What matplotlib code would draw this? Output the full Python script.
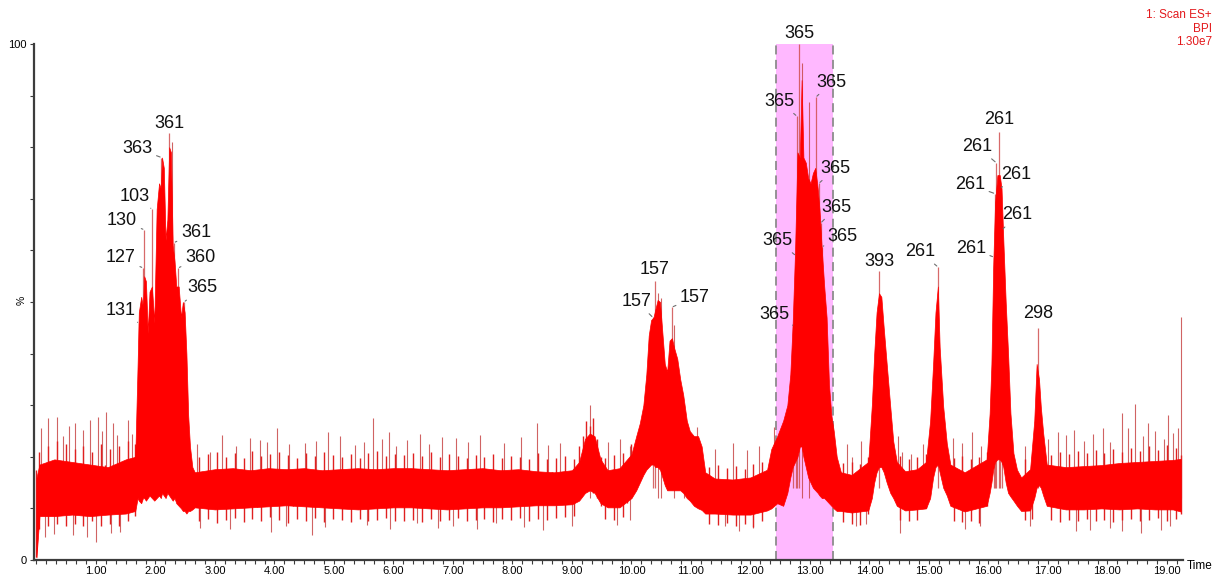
import matplotlib
matplotlib.use("Agg")
import matplotlib.pyplot as plt
from matplotlib.ticker import MultipleLocator, FixedLocator

plt.rcParams["font.family"] = ["Liberation Sans", "DejaVu Sans"]

# -----------------------------
# BPI trace, % of 1.30e7
# core = solid body of the signal, scans = individual scans around it
# -----------------------------
core_t = [
    0.00, 0.05, 0.30, 0.60, 0.90, 1.20, 1.50, 1.66,
    1.70, 1.72, 1.76, 1.79, 1.81, 1.84, 1.87, 1.90, 1.94, 1.98, 2.02, 2.06, 2.09, 2.11, 2.14, 2.17, 2.20, 2.23,
    2.26, 2.29, 2.32, 2.35, 2.39, 2.43, 2.46, 2.49, 2.52, 2.55, 2.58, 2.62,
    2.66, 3.00, 3.30, 3.60, 3.90, 4.20, 4.50, 4.80, 5.10, 5.40, 5.70, 6.00, 6.30, 6.60, 6.90, 7.20, 7.50, 7.80,
    8.10, 8.40, 8.70, 9.00, 9.12,
    9.22, 9.30, 9.38, 9.48, 9.60, 9.80, 10.00,
    10.08, 10.14, 10.20, 10.25, 10.29, 10.33, 10.37, 10.40, 10.44, 10.48, 10.52, 10.56, 10.60, 10.64, 10.68,
    10.72, 10.77, 10.82, 10.87, 10.93, 10.98, 11.05, 11.12, 11.18, 11.24,
    11.40, 11.70, 12.00, 12.28,
    12.35, 12.45, 12.55, 12.62, 12.67, 12.71, 12.75, 12.79, 12.83, 12.86, 12.89, 12.93, 12.97, 13.01, 13.05,
    13.09, 13.13, 13.16, 13.20, 13.24, 13.28, 13.32, 13.36, 13.40, 13.45, 13.52,
    13.70, 13.98,
    14.04, 14.08, 14.12, 14.16, 14.20, 14.24, 14.29, 14.35, 14.40, 14.46,
    14.60, 14.80, 14.95,
    15.02, 15.07, 15.11, 15.15, 15.18, 15.24, 15.30, 15.36,
    15.60, 15.97,
    16.02, 16.05, 16.08, 16.11, 16.15, 16.19, 16.22, 16.25, 16.29, 16.33, 16.37, 16.42, 16.48, 16.55,
    16.70,
    16.77, 16.81, 16.85, 16.88, 16.92, 16.98,
    17.30, 17.60, 17.90, 18.20, 18.50, 18.80, 19.10, 19.23,
]
core_top = [
    16.0, 18.5, 19.5, 19.0, 18.5, 18.0, 19.5, 20.0,
    38, 48, 51, 49, 55, 54, 44, 52, 53, 46, 68, 73, 72, 78, 76, 62, 66, 80,
    79, 61, 58, 53, 53, 47, 50, 48, 40, 28, 22, 18,
    17.0, 17.6, 17.8, 17.4, 17.8, 17.6, 17.8, 17.4, 17.6, 17.8, 17.6, 17.8, 17.8, 17.6, 17.4, 17.6, 17.8, 17.4,
    17.6, 17.2, 17.0, 17.4, 19.0,
    23.5, 24.5, 24.0, 19.5, 17.4, 17.8, 20.5,
    24, 26.5, 30, 36, 43.5, 46.5, 47, 48.5, 50.4, 50, 44, 38, 36.5, 42.5, 43,
    41, 39, 35, 32, 27, 25, 24, 24, 22, 17,
    15.8, 15.6, 16.0, 17.5,
    21.5, 24, 27, 30, 36, 46, 60, 79, 78, 93, 78, 77, 74, 73, 75,
    76, 72, 68, 60, 53, 47, 34, 28, 25, 20, 17,
    16.5, 19.0,
    30, 40, 48, 51.7, 51, 45, 38, 29.7, 23, 19,
    17.2, 17.6, 19.0,
    27, 38, 48, 53, 41.3, 29.7, 22.6, 18.5,
    17.0, 19.5,
    28.4, 38, 56.8, 69, 74.6, 74.6, 72, 62, 50, 40, 28.4, 20.7, 17.5, 16.0,
    17.6,
    27, 38, 35, 29.7, 24.6, 18.5,
    18.0, 18.2, 18.4, 18.8, 19.0, 19.2, 19.4, 19.6,
]
core_bottom = [
    0.5, 8.5, 8.5, 8.8, 8.5, 8.8, 9.0, 9.5,
    12, 11.5, 11, 12, 12, 11.5, 12, 12.5, 12, 11.5, 12, 12.5, 12, 13, 12.5, 12, 13, 12.5,
    12, 11.5, 12, 11, 10.5, 10, 9.5, 9.5, 9, 9.5, 9.5, 9.8,
    10.2, 9.8, 10.0, 10.2, 10.4, 10.6, 10.4, 10.2, 10.0, 9.8, 10.0, 10.2, 10.2, 10.0, 9.8, 10.0, 10.2, 10.2,
    10.4, 10.6, 10.6, 10.8, 11.5,
    13.0, 13.5, 13.0, 11.0, 10.2, 10.2, 12.0,
    13.5, 15, 16.5, 17.5, 18, 18.5, 18.5, 18, 18, 17.5, 16, 14.5, 13.5, 13.5, 13.5,
    13.5, 13.5, 13.5, 13, 12, 11.5, 10.5, 10, 9.7, 9.0,
    9.0, 8.8, 8.8, 9.6,
    10, 11, 10.5, 13, 16, 18, 19, 20, 22, 22, 20, 18, 16, 15, 14,
    13.5, 13, 12.5, 12, 12, 11.5, 11, 10.5, 10, 9.5, 9.5,
    9.2, 9.6,
    12, 15, 17, 18, 18, 17, 15, 13, 12, 10.5,
    9.6, 9.8, 10.0,
    12, 16, 18, 18.5, 17, 14, 12.5, 10.5,
    9.4, 10.5,
    13, 15, 17.5, 19, 19.5, 19.5, 19, 18, 15, 13, 12.3, 11.5, 10.5, 9.5,
    9.6,
    12, 14, 14.5, 14, 12.5, 10.5,
    9.8, 9.8, 10.0, 9.8, 10.0, 9.8, 9.8, 9.4,
]

scan_t = [
    0.00, 0.04, 0.11, 0.19, 0.26, 0.34, 0.41, 0.49, 0.56, 0.64, 0.71, 0.79, 0.86, 0.94, 1.01, 1.09, 1.16, 1.24,
    1.31, 1.39, 1.46, 1.54, 1.61, 1.66,
    2.66, 2.73, 2.81, 2.88, 2.96, 3.03, 3.11, 3.18, 3.26, 3.33, 3.41, 3.48, 3.56, 3.63, 3.71, 3.78, 3.86, 3.93,
    4.01, 4.08, 4.16, 4.23, 4.31, 4.38, 4.46, 4.53, 4.61, 4.68, 4.76, 4.83, 4.91, 4.98, 5.06, 5.13, 5.21, 5.28,
    5.36, 5.43, 5.51, 5.58, 5.66, 5.73, 5.81, 5.88, 5.96, 6.03, 6.11,
    6.18, 6.26, 6.33, 6.41, 6.48, 6.56, 6.63, 6.71, 6.78, 6.86, 6.93, 7.01, 7.08, 7.16, 7.23, 7.31, 7.38, 7.46,
    7.53, 7.61, 7.68, 7.76, 7.83, 7.91, 7.98, 8.06, 8.13, 8.21, 8.28, 8.36, 8.43, 8.51, 8.58, 8.66, 8.73, 8.81,
    8.88, 8.96, 9.03, 9.12,
    9.18, 9.24, 9.30, 9.36, 9.42, 9.48, 9.55, 9.62, 9.70, 9.77, 9.85, 9.92, 10.00,
    11.30, 11.37, 11.45, 11.52, 11.60, 11.67, 11.75, 11.82, 11.90, 11.97, 12.05, 12.12, 12.20, 12.28,
    13.56, 13.63, 13.70, 13.77, 13.84, 13.91, 13.98,
    14.52, 14.59, 14.66, 14.73, 14.80, 14.87, 14.95,
    15.42, 15.49, 15.56, 15.63, 15.70, 15.77, 15.84, 15.91, 15.97,
    16.61, 16.67, 16.73,
    17.05, 17.12, 17.20, 17.27, 17.35, 17.42, 17.50, 17.57, 17.65, 17.72, 17.80, 17.87, 17.95, 18.02, 18.10,
    18.17, 18.25, 18.32, 18.40, 18.47, 18.55, 18.62, 18.70, 18.77, 18.85, 18.92, 19.00, 19.07, 19.15, 19.23,
]
scan_top = [
    17.5, 21.0, 16.5, 22.0, 18.0, 23.0, 19.0, 22.5, 18.5, 21.5, 17.5, 22.0, 18.0, 21.0, 17.0, 22.5, 18.5, 21.5,
    17.5, 22.0, 18.5, 23.0, 19.5, 22.5,
    16.5, 20.0, 16.8, 20.5, 17.0, 21.0, 16.5, 20.0, 17.2, 20.8, 16.8, 19.8, 17.0, 21.2, 16.6, 20.2, 17.4, 20.6,
    16.8, 21.0, 17.0, 20.4, 16.6, 19.8, 17.2, 20.8, 16.8, 20.2, 17.0, 21.0, 16.6, 20.4, 17.2, 20.0, 16.8, 20.6,
    17.0, 19.8, 16.6, 20.8, 17.2, 21.2, 16.8, 20.2, 17.0, 20.6, 17.2,
    20.4, 16.8, 20.8, 17.0, 20.2, 16.6, 21.0, 17.2, 20.0, 16.8, 20.6, 17.0, 20.2, 16.6, 19.8, 17.2, 20.4, 16.8,
    20.0, 17.0, 20.6, 16.6, 19.8, 17.0, 20.2, 16.8, 20.0, 16.6, 19.6, 17.0, 20.8, 16.6, 19.6, 17.0, 19.8, 16.8,
    20.2, 17.0, 19.6, 22.0,
    24.0, 27.0, 26.0, 27.5, 23.5, 20.0, 19.8, 16.8, 20.4, 17.2, 20.8, 18.5, 22.5,
    18.0, 14.8, 18.4, 15.0, 17.8, 14.6, 18.2, 15.2, 17.6, 15.0, 18.6, 15.6, 19.0, 17.0,
    18.8, 15.6, 19.0, 15.2, 18.6, 16.4, 20.0,
    20.2, 16.6, 19.6, 16.2, 20.0, 16.8, 20.5,
    19.8, 16.4, 20.2, 16.0, 19.6, 16.6, 20.0, 17.0, 21.0,
    19.6, 16.4, 20.0,
    20.4, 16.8, 21.0, 17.2, 20.6, 16.8, 21.2, 17.4, 20.8, 17.0, 21.4, 17.6, 20.8, 17.2, 21.6,
    17.6, 21.0, 17.4, 21.8, 17.8, 21.2, 17.6, 22.0, 18.0, 21.4, 17.8, 22.2, 18.2, 21.8, 20.4,
]
scan_bottom = [
    0.5, 6.0, 9.5, 6.5, 9.0, 7.0, 10.0, 6.5, 9.5, 7.0, 9.5, 6.5, 9.0, 7.5, 9.5, 6.5, 9.0, 7.0,
    10.0, 6.5, 9.5, 7.5, 10.0, 8.5,
    10.5, 7.5, 10.8, 8.0, 10.4, 7.2, 10.6, 7.8, 11.0, 8.2, 10.4, 7.4, 10.8, 8.0, 10.2, 7.6, 11.0, 8.4,
    10.6, 7.8, 10.8, 7.2, 10.4, 8.0, 11.0, 7.6, 10.6, 8.2, 10.4, 7.4, 10.8, 8.0, 10.2, 7.8, 10.6, 7.4,
    11.0, 8.0, 10.4, 7.6, 10.8, 7.8, 10.4, 8.2, 10.6, 7.6, 10.8,
    7.6, 10.6, 7.8, 10.8, 7.4, 10.4, 8.0, 10.8, 7.6, 10.6, 7.8, 10.4, 8.2, 10.8, 7.6, 10.6, 7.8, 11.0,
    8.0, 10.6, 7.4, 10.8, 8.0, 10.6, 7.8, 11.0, 8.2, 10.6, 7.6, 10.8, 8.0, 11.0, 7.8, 10.8, 8.2, 11.2,
    8.4, 11.0, 8.6, 12.5,
    13.0, 13.5, 14.5, 13.0, 12.0, 10.5, 8.0, 10.8, 7.8, 10.6, 8.4, 11.0, 12.0,
    7.0, 9.8, 6.8, 9.6, 7.2, 10.0, 6.6, 9.8, 7.0, 9.6, 6.4, 9.8, 7.6, 10.0,
    7.4, 10.0, 7.0, 9.6, 6.8, 9.8, 9.0,
    7.8, 10.4, 7.6, 10.2, 7.8, 10.6, 10.0,
    7.6, 10.2, 7.4, 9.8, 7.6, 10.0, 7.2, 10.4, 10.5,
    7.8, 10.0, 8.0,
    7.8, 10.6, 7.4, 10.8, 7.8, 10.4, 7.6, 11.0, 8.0, 10.6, 7.6, 10.8, 7.8, 10.6, 7.4,
    11.0, 7.8, 10.8, 8.0, 10.6, 7.6, 11.0, 7.8, 10.8, 8.2, 10.6, 7.6, 11.0, 8.0, 9.0,
]

# single scans sticking out well above / below the body
spike_t = [0.08, 0.20, 0.34, 0.45, 0.55, 0.65, 0.79, 0.90, 1.04, 1.10, 1.17, 1.28, 1.35, 1.53, 1.60,
           2.28, 2.70, 2.92, 3.11, 3.35, 3.59, 3.75, 3.87, 4.04, 4.25, 4.51, 4.70, 4.90, 5.10, 5.35,
           5.50, 5.66, 5.80, 5.93, 6.05, 6.22, 6.45, 6.60, 6.81, 7.05, 7.26, 7.45, 7.85, 8.15, 8.41,
           8.60, 8.80, 9.30, 9.60, 9.80, 9.97, 10.45, 10.50, 10.72, 10.88, 11.10, 11.40, 11.70, 11.94,
           12.15, 12.39, 12.87, 12.98, 13.62, 13.70, 13.85, 14.48, 14.55, 14.70, 14.90, 15.40, 15.55,
           15.72, 15.88, 16.62, 17.00, 17.17, 17.30, 17.43, 17.60, 17.75, 17.92, 18.05, 18.24, 18.35,
           18.46, 18.60, 18.69, 18.80, 18.95, 19.02, 19.11, 19.18, 19.23]
spike_top = [25.5, 27.5, 27.8, 24.0, 26.0, 26.5, 25.2, 27.1, 27.8, 25.0, 28.7, 26.5, 24.2, 27.1, 24.5,
             81.0, 22.5, 21.0, 24.2, 22.0, 23.6, 23.2, 22.9, 25.5, 22.4, 22.6, 23.0, 24.9, 24.0, 22.3,
             22.8, 27.5, 23.5, 24.9, 22.0, 23.3, 24.5, 22.4, 23.9, 23.6, 22.9, 24.2, 22.6, 23.8, 26.5,
             22.2, 22.6, 30.0, 22.8, 23.5, 22.0, 51.7, 50.7, 45.5, 26.5, 25.8, 21.5, 22.6, 21.3,
             22.0, 25.8, 96.3, 88.8, 22.5, 20.0, 23.0, 24.0, 21.0, 20.5, 22.4, 23.6, 22.6,
             24.8, 22.0, 22.0, 23.5, 24.8, 24.2, 25.2, 23.0, 24.5, 25.5, 22.8, 28.4, 25.6,
             30.2, 24.0, 26.5, 25.0, 23.4, 28.1, 24.6, 25.5, 47.0]
dip_t = [0.14, 0.30, 0.62, 0.85, 1.00, 1.25, 1.40, 2.75, 3.25, 3.95, 4.20, 4.63, 4.85, 5.55, 5.95,
         6.39, 6.75, 7.00, 7.40, 7.73, 8.20, 8.52, 9.00, 9.75, 9.97, 11.57, 11.80, 12.05, 13.78,
         13.95, 14.52, 15.60, 15.85, 16.70, 17.48, 17.70, 18.05, 18.24, 18.57, 18.90, 19.05]
dip_bottom = [4.5, 5.0, 4.8, 4.5, 3.5, 5.2, 5.5, 6.2, 6.0, 5.5, 6.5, 4.8, 6.4, 6.8, 6.0,
              7.1, 6.2, 6.5, 6.0, 7.1, 6.4, 5.8, 6.5, 6.8, 7.8, 6.5, 5.6, 6.2, 6.5,
              7.0, 5.2, 6.0, 6.5, 6.6, 5.6, 5.8, 6.2, 5.6, 5.2, 5.8, 6.5]

# -----------------------------
# Labelled peaks (base peak m/z)
# -----------------------------
peak_t = [1.72, 1.79, 1.81, 1.94, 2.10, 2.23, 2.31, 2.38, 2.48,
          10.36, 10.39, 10.68,
          12.71, 12.76, 12.78, 12.82, 13.10, 13.15, 13.18, 13.20,
          14.16, 15.15,
          16.09, 16.11, 16.13, 16.18, 16.20, 16.23, 16.83]
peak_pct = [45.9, 56.6, 64.0, 68.0, 78.0, 82.7, 61.5, 56.6, 50.0,
            47.0, 54.0, 49.0,
            45.5, 59.0, 86.0, 100.0, 89.7, 73.0, 65.3, 60.7,
            56.0, 56.8,
            58.7, 71.0, 77.0, 83.0, 72.0, 64.0, 45.0]
peak_mz = ["131", "127", "130", "103", "363", "361", "361", "360", "365",
           "157", "157", "157",
           "365", "365", "365", "365", "365", "365", "365", "365",
           "393", "261",
           "261", "261", "261", "261", "261", "261", "298"]

# label centre offsets from the apex, in pixels (x right, y up)
label_dx = [-18, -22, -22, -17, -24, 0, 22, 22, 18,
            -16, 0, 23,
            -18, -18, -17, 0, 16, 17, 16, 21,
            0, -18,
            -23, -25, -19, 0, 16, 15, 0]
label_dy = [13, 10, 9, 13, 9, 10, 10, 10, 14,
            16, 12, 10,
            11, 15, 15, 11, 15, 15, 16, 10,
            10, 15,
            9, 9, 16, 12, 14, 15, 14]

# highlighted retention window
window = (12.43, 13.38)

# -----------------------------
# Figure
# -----------------------------
fig = plt.figure(figsize=(12.14, 5.78), dpi=100)
ax = fig.add_axes([33.5 / 1214, 18 / 578, 1149.5 / 1214, 516 / 578])

ax.axvspan(window[0], window[1], color="#ffb8ff", zorder=0, lw=0)
for edge in window:
    ax.axvline(edge, color="#8c8c8c", lw=1.3, ls=(0, (5, 3)), zorder=1)

ax.vlines(spike_t, 12, spike_top, color="#c84848", lw=0.8, alpha=0.85, zorder=2)
ax.vlines(dip_t, dip_bottom, 12, color="#c84848", lw=0.8, alpha=0.85, zorder=2)
ax.vlines(peak_t, 14, peak_pct, color="#d05050", lw=0.9, alpha=0.85, zorder=2)
ax.vlines(scan_t, scan_bottom, scan_top, color="#e02020", lw=1.0, zorder=2.5)

ax.fill_between(core_t, core_bottom, core_top, color="#ff0000", lw=0.5,
                edgecolor="#ff0000", zorder=3)

px = 0.72  # pixel -> point at 100 dpi
for t, p, mz, dx, dy in zip(peak_t, peak_pct, peak_mz, label_dx, label_dy):
    arrow = None
    if dx != 0:
        arrow = dict(arrowstyle="-", color="#6e6e6e", lw=0.8, shrinkA=1, shrinkB=1)
    ax.annotate(mz, xy=(t, p), xytext=(dx * px, dy * px), textcoords="offset points",
                ha="center", va="center", fontsize=13, color="#111111",
                arrowprops=arrow, annotation_clip=False, zorder=5)

# -----------------------------
# Axes styling
# -----------------------------
ax.set_xlim(-0.05, 19.27)
ax.set_ylim(0, 100)

for side in ["top", "right"]:
    ax.spines[side].set_visible(False)
for side in ["left", "bottom"]:
    ax.spines[side].set_color("#3c3c3c")
    ax.spines[side].set_linewidth(1.6)

ax.xaxis.set_major_locator(FixedLocator(range(1, 20)))
ax.xaxis.set_major_formatter(plt.FuncFormatter(lambda v, _: "%.2f" % v))
ax.xaxis.set_minor_locator(MultipleLocator(1 / 6))
ax.yaxis.set_major_locator(FixedLocator([0, 100]))
ax.yaxis.set_minor_locator(MultipleLocator(10))

ax.tick_params(axis="x", which="both", direction="out", length=3, width=0.8,
               color="#3c3c3c", labelsize=8, pad=1.5)
ax.tick_params(axis="y", which="both", direction="out", length=3, width=0.8,
               color="#3c3c3c", labelsize=8, pad=2)

fig.text(1187 / 1214, 1 - 566 / 578, "Time", fontsize=8.5, ha="left", va="center")
fig.text(22 / 1214, 1 - 300 / 578, "%", fontsize=7.5, ha="center", va="center", rotation=90)

for i, line in enumerate(["1: Scan ES+", "BPI", "1.30e7"]):
    fig.text(1212 / 1214, 1 - (15 + 13.5 * i) / 578, line, fontsize=8.5,
             color="#e3191c", ha="right", va="center")

fig.savefig("out.png", dpi=100, facecolor="white")
